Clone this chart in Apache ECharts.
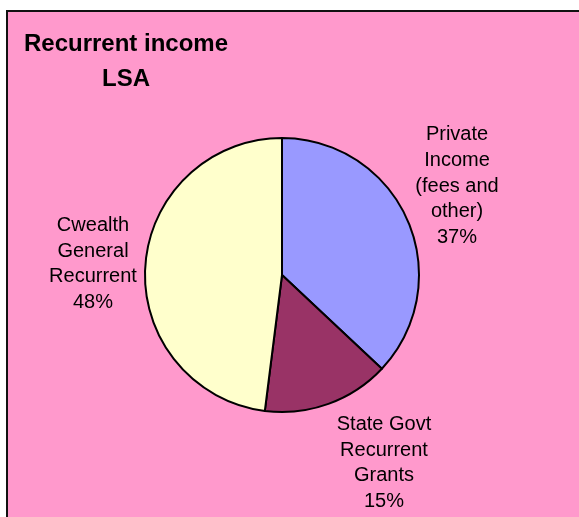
<!DOCTYPE html>
<html>
<head>
<meta charset="utf-8">
<script src="https://cdn.jsdelivr.net/npm/echarts@6/dist/echarts.min.js"></script>
<style>
html,body{margin:0;padding:0;background:#ffffff;width:579px;height:517px;overflow:hidden;}
#frame{position:absolute;left:6px;top:10px;width:700px;height:700px;background:#FF99CC;border-left:2px solid #111;border-top:2px solid #111;}
#main{position:absolute;left:0;top:0;width:579px;height:517px;}
</style>
</head>
<body>
<div id="frame"></div>
<div id="main"></div>
<script>
const titleText = "Recurrent income\nLSA";
const categories = ["Private\nIncome\n(fees and\nother)", "State Govt\nRecurrent\nGrants", "Cwealth\nGeneral\nRecurrent"];
const values = [37, 15, 48];
const colors = ["#9999FF", "#993366", "#FFFFCC"];
// label anchor positions (styling)
const labelPos = [[457, 186], [384, 463], [93, 264]];

const chart = echarts.init(document.getElementById('main'), null, {renderer: 'canvas'});
chart.setOption({
  backgroundColor: 'transparent',
  animation: false,
  title: {
    text: titleText,
    left: 126,
    top: 27,
    padding: 0,
    textAlign: 'center',
    textStyle: {fontFamily: 'Liberation Sans, Arial, sans-serif', fontSize: 24, fontWeight: 'bold', color: '#000', lineHeight: 35}
  },
  series: [{
    type: 'pie',
    center: [282, 275],
    radius: 137,
    startAngle: 90,
    clockwise: true,
    avoidLabelOverlap: false,
    data: categories.map((c, i) => ({name: c, value: values[i], itemStyle: {color: colors[i]}})),
    itemStyle: {borderColor: '#000', borderWidth: 2},
    label: {
      show: true,
      position: 'outside',
      formatter: p => p.name + '\n' + Math.round(p.percent) + '%',
      fontFamily: 'Liberation Sans, Arial, sans-serif',
      fontSize: 20,
      lineHeight: 25.7,
      color: '#000',
      align: 'center'
    },
    labelLine: {show: false},
    labelLayout: function (params) {
      const p = labelPos[params.dataIndex];
      return {x: p[0], y: p[1], align: 'center', verticalAlign: 'middle'};
    },
    emphasis: {disabled: true}
  }]
});
</script>
</body>
</html>
